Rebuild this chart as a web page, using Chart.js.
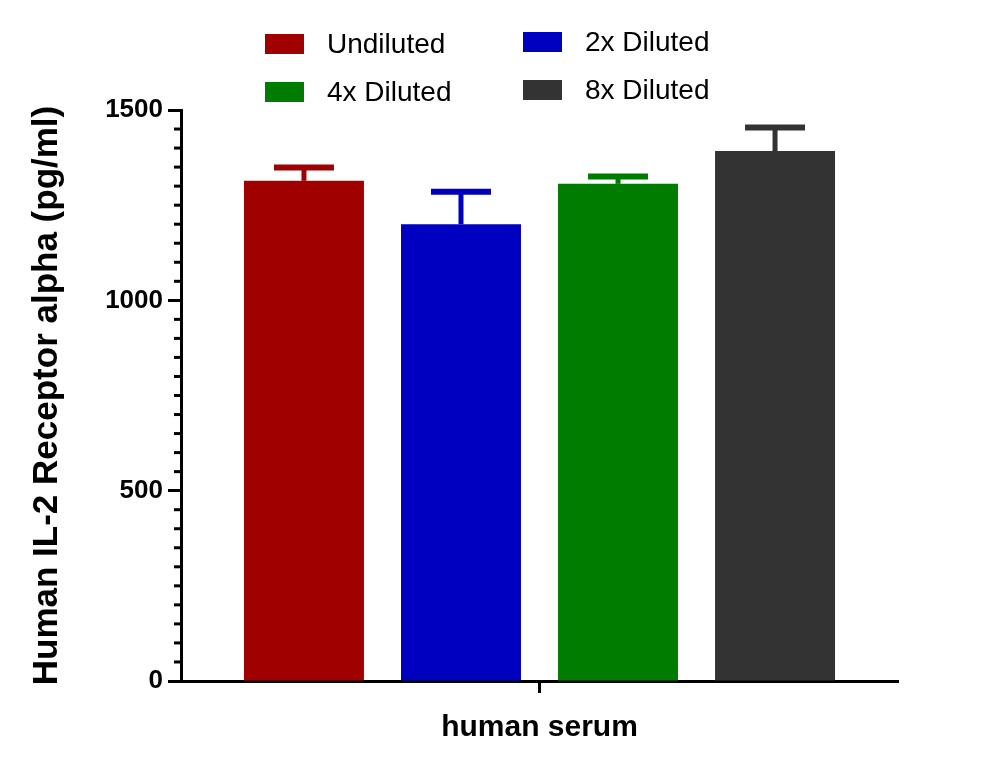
<!DOCTYPE html>
<html>
<head>
<meta charset="utf-8">
<script src="https://cdn.jsdelivr.net/npm/chart.js@4.4.0/dist/chart.umd.min.js"></script>
<style>
  html, body { margin: 0; padding: 0; background: #fff; }
  #wrap { width: 989px; height: 768px; }
</style>
</head>
<body>
<div id="wrap"><canvas id="myChart" width="989" height="768"></canvas></div>
<script>
var categories = ['human serum'];
var seriesNames = ['Undiluted', '2x Diluted', '4x Diluted', '8x Diluted'];
var seriesMeans = [1314, 1200, 1306, 1392];
var seriesErrors = [35, 85, 19, 62];
var seriesColors = ['#a00000', '#0000c0', '#007d00', '#333333'];
var yTicks = [0, 500, 1000, 1500];

var FONT = "'Liberation Sans', Arial, sans-serif";

// error bars, upper half only
var errorBars = {
    id: 'errorBars',
    afterDatasetsDraw: function (chart) {
        var ctx = chart.ctx;
        var y = chart.scales.y;
        ctx.save();
        chart.data.datasets.forEach(function (ds, i) {
            var meta = chart.getDatasetMeta(i);
            meta.data.forEach(function (bar, j) {
                var top = y.getPixelForValue(ds.data[j] + ds.errors[j]);
                var half = bar.width * 0.25;
                ctx.strokeStyle = ds.backgroundColor;
                ctx.lineWidth = 5;
                ctx.beginPath();
                ctx.moveTo(bar.x, bar.y);
                ctx.lineTo(bar.x, top);
                ctx.stroke();
                ctx.lineWidth = 6;
                ctx.beginPath();
                ctx.moveTo(bar.x - half, top);
                ctx.lineTo(bar.x + half, top);
                ctx.stroke();
            });
        });
        ctx.restore();
    }
};

// minor ticks on y axis every 50
var minorTicks = {
    id: 'minorTicks',
    afterDraw: function (chart) {
        var ctx = chart.ctx;
        var y = chart.scales.y;
        var x0 = chart.chartArea.left;
        ctx.save();
        ctx.strokeStyle = '#000';
        ctx.lineWidth = 3;
        for (var v = 50; v < 1500; v += 50) {
            if (v % 500 === 0) continue;
            var py = y.getPixelForValue(v);
            ctx.beginPath();
            ctx.moveTo(x0 - 7, py);
            ctx.lineTo(x0, py);
            ctx.stroke();
        }
        ctx.restore();
    }
};

// legend in two columns
var twoColLegend = {
    id: 'twoColLegend',
    afterDraw: function (chart) {
        var ctx = chart.ctx;
        var colX = [265, 523];
        var rowY = [44, 92];
        ctx.save();
        ctx.font = '28px ' + FONT;
        ctx.textBaseline = 'middle';
        chart.data.datasets.forEach(function (ds, i) {
            var col = i % 2, row = Math.floor(i / 2);
            var bx = colX[col], by = rowY[row] - (col === 1 ? 2 : 0);
            ctx.fillStyle = ds.backgroundColor;
            ctx.fillRect(bx, by - 10, 39, 20);
            ctx.fillStyle = '#000';
            ctx.fillText(ds.label, bx + 62, by + 1);
        });
        ctx.restore();
    }
};

var datasets = seriesNames.map(function (name, i) {
    return {
        label: name,
        data: [seriesMeans[i]],
        errors: [seriesErrors[i]],
        backgroundColor: seriesColors[i],
        borderWidth: 0,
        barPercentage: 0.764,
        categoryPercentage: 0.876
    };
});

new Chart(document.getElementById('myChart'), {
    type: 'bar',
    data: { labels: categories, datasets: datasets },
    plugins: [errorBars, minorTicks, twoColLegend],
    options: {
        responsive: false,
        animation: false,
        layout: { padding: { top: 110, right: 91, left: 0, bottom: 0 } },
        plugins: { legend: { display: false }, tooltip: { enabled: false } },
        scales: {
            x: {
                afterFit: function (s) { s.height = 87; },
                border: { color: '#000', width: 3 },
                grid: { offset: false, drawOnChartArea: false, tickLength: 12, tickWidth: 3, color: '#000' },
                ticks: { display: false },
                title: {
                    display: true, text: categories[0], color: '#000',
                    font: { family: FONT, size: 30, weight: 'bold' },
                    padding: { bottom: 22, top: 0 }
                }
            },
            y: {
                min: 0, max: 1500,
                afterFit: function (s) { s.width = 181; },
                afterBuildTicks: function (s) { s.ticks = yTicks.map(function (v) { return { value: v }; }); },
                border: { color: '#000', width: 3 },
                grid: { drawOnChartArea: false, tickLength: 13, tickWidth: 3, color: '#000' },
                ticks: {
                    color: '#000', padding: 5,
                    font: { family: FONT, size: 26, weight: 'bold' },
                    callback: function (v) { return String(v); }
                },
                title: {
                    display: true, text: 'Human IL-2 Receptor alpha (pg/ml)', color: '#000',
                    font: { family: FONT, size: 35, weight: 'bold' },
                    padding: { top: 26, bottom: 0 }
                }
            }
        }
    }
});
</script>
</body>
</html>
